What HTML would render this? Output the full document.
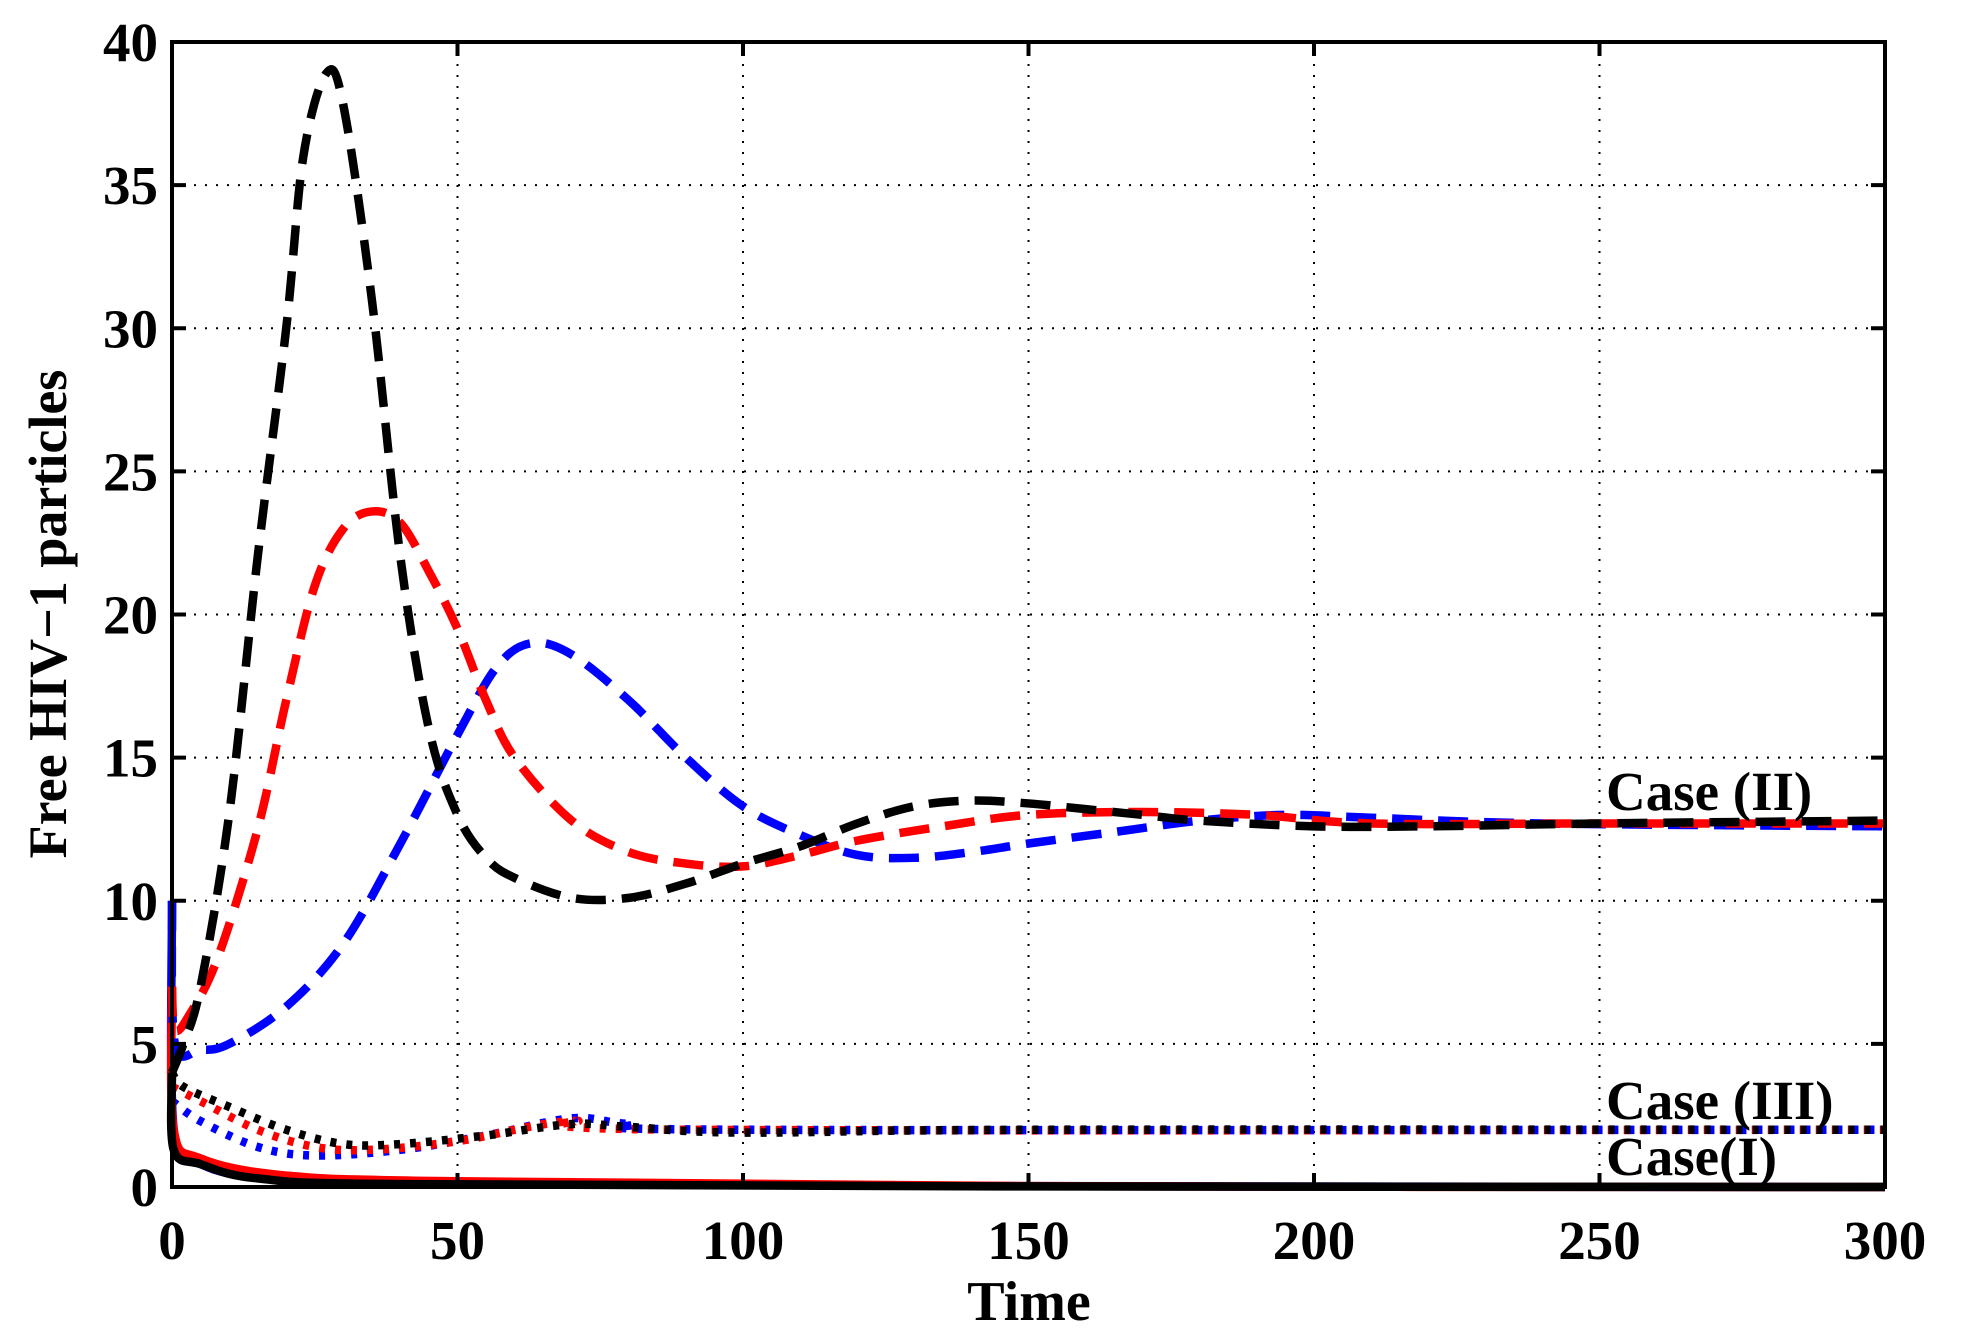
<!DOCTYPE html>
<html><head><meta charset="utf-8"><style>
html,body{margin:0;padding:0;background:#fff;}
svg{display:block;}
text{font-family:"Liberation Serif",serif;font-weight:bold;fill:#000;}
</style></head><body>
<svg id="s" width="1961" height="1342" viewBox="0 0 1961 1342" xmlns="http://www.w3.org/2000/svg">
<rect width="1961" height="1342" fill="#fff"/>
<g id="grid" stroke="#000" stroke-width="2" stroke-dasharray="2,9"></g>
<g id="curves" fill="none"></g>
<rect x="172" y="42" width="1713" height="1145" fill="none" stroke="#000" stroke-width="4"/>
<g id="ticks" stroke="#000" stroke-width="4"></g>
<g id="labels" font-size="55"></g>
<text x="1029" y="1320" font-size="56" text-anchor="middle">Time</text>
<text transform="translate(66,614) rotate(-90)" font-size="54" text-anchor="middle">Free HIV−1 particles</text>
<text x="1606" y="810" font-size="55">Case (II)</text>
<text x="1606" y="1119" font-size="55">Case (III)</text>
<text x="1606" y="1175" font-size="55">Case(I)</text>
</svg>
<script>
const X0=172,X1=1885,Y0=1187,Y1=42;
const fx=x=>X0+x*(X1-X0)/300, fy=y=>Y0-y*(Y0-Y1)/40;
const NS="http://www.w3.org/2000/svg";
function el(p,t,a,txt){const e=document.createElementNS(NS,t);for(const k in a)e.setAttribute(k,a[k]);if(txt!=null)e.textContent=txt;document.getElementById(p).appendChild(e);}
for(let i=1;i<6;i++){el('grid','line',{x1:fx(i*50),x2:fx(i*50),y1:Y1,y2:Y0});}
for(let i=1;i<8;i++){el('grid','line',{x1:X0,x2:X1,y1:fy(i*5),y2:fy(i*5)});}
for(let i=0;i<=6;i++){const x=fx(i*50);el('ticks','line',{x1:x,x2:x,y1:Y0,y2:Y0-14});el('ticks','line',{x1:x,x2:x,y1:Y1,y2:Y1+14});
 el('labels','text',{x:x,y:1259,'text-anchor':'middle'},String(i*50));}
for(let i=0;i<=8;i++){const y=fy(i*5);el('ticks','line',{x1:X0,x2:X0+14,y1:y,y2:y});el('ticks','line',{x1:X1,x2:X1-14,y1:y,y2:y});
 el('labels','text',{x:158,y:y+19,'text-anchor':'end'},String(i*5));}
function path(pts){const P=pts.map(p=>[fx(p[0]),fy(p[1])]);let d=`M${P[0][0]},${P[0][1]}`;
 for(let i=0;i<P.length-1;i++){const p0=P[Math.max(0,i-1)],p1=P[i],p2=P[i+1],p3=P[Math.min(P.length-1,i+2)];
 const c1=[p1[0]+(p2[0]-p0[0])/6,p1[1]+(p2[1]-p0[1])/6],c2=[p2[0]-(p3[0]-p1[0])/6,p2[1]-(p3[1]-p1[1])/6];
 d+=` C${c1[0]},${c1[1]} ${c2[0]},${c2[1]} ${p2[0]},${p2[1]}`;}return d;}
const dash="30,16", dot="6,10";
const C=[
['#00f',dot,[[0,3],[5,2.3],[15,1.4],[25,1.1],[40,1.3],[55,1.8],[70,2.4],[80,2.2],[100,2],[300,2]]],
['#f00',dot,[[0,3.5],[5,3],[15,2],[25,1.4],[35,1.3],[50,1.6],[70,2.3],[90,2],[300,2]]],
['#000',dot,[[0,4],[2,3.5],[10,2.8],[20,2],[30,1.5],[40,1.5],[55,1.8],[70,2.2],[80,2.1],[100,1.9],[150,2],[300,2]]],
['#00f',null,[[0,10],[0.3,2],[5,0.8],[20,0.3],[70,0.1],[150,0.03],[300,0]]],
['#f00',null,[[0,7],[0.3,2],[5,1],[20,0.4],[50,0.2],[150,0.03],[300,0]]],
['#000',null,[[0,4],[0.3,1.3],[5,0.8],[15,0.3],[40,0.1],[150,0.02],[300,0]]],
['#00f',dash,[[0,10],[0.5,5],[5,4.8],[10,5],[20,6.3],[30,8.5],[40,12],[50,15.8],[57,18.2],[63,19],[70,18.6],[80,17],[90,15],[100,13.3],[110,12.3],[120,11.6],[130,11.5],[140,11.7],[150,12.0],[165,12.4],[180,12.8],[195,13.0],[210,12.9],[240,12.7],[300,12.6]]],
['#f00',dash,[[0,7],[0.5,5.5],[3,6],[8,8],[15,12.5],[20,17],[25,21],[30,23],[35,23.6],[40,23.2],[45,21.5],[50,19.5],[55,17],[60,15],[70,12.8],[80,11.7],[90,11.3],[100,11.2],[110,11.6],[120,12.1],[135,12.6],[150,13.0],[170,13.1],[190,13.0],[210,12.7],[250,12.7],[300,12.7]]],
['#000',dash,[[0,4],[2,5],[5,7],[10,13],[15,22],[20,30],[23,36],[27,38.9],[30,37.8],[35,31],[40,22],[45,16],[50,13],[55,11.5],[60,10.8],[70,10.1],[80,10.1],[90,10.6],[100,11.3],[110,11.9],[120,12.7],[130,13.3],[140,13.5],[150,13.4],[160,13.2],[170,13.0],[180,12.8],[200,12.6],[220,12.6],[250,12.7],[300,12.8]]]
];
for(const [c,da,pts] of C){const a={d:path(pts),stroke:c,'stroke-width':8.5};if(da)a['stroke-dasharray']=da;el('curves','path',a);}
</script>
</body></html>
